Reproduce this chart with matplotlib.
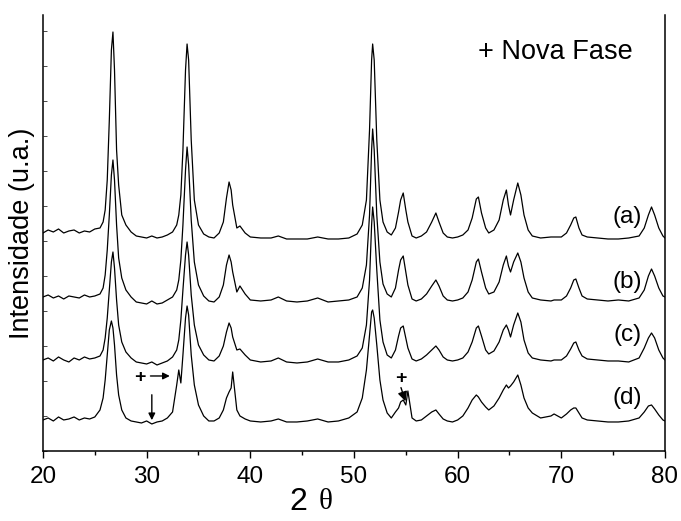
import matplotlib
matplotlib.use('Agg')
import matplotlib.pyplot as plt
import numpy as np

plt.rcParams['font.family'] = ['Liberation Sans', 'DejaVu Sans']

# 2 theta grid (degrees)
two_theta = [
    20.0, 20.5, 21.0, 21.5, 22.0, 22.5, 23.0, 23.5, 24.0, 24.5,
    25.0, 25.5, 25.8, 26.0, 26.2, 26.4, 26.6, 26.75, 26.9, 27.1,
    27.3, 27.6, 28.0, 28.5, 29.0, 29.5, 30.0, 30.5, 31.0, 31.5,
    32.0, 32.5, 32.9, 33.1, 33.3, 33.5, 33.75, 33.9, 34.05, 34.3,
    34.6, 35.0, 35.5, 36.0, 36.5, 37.0, 37.4, 37.7, 37.95, 38.15,
    38.3, 38.7, 39.0, 39.5, 40.0, 41.0, 42.0, 42.7, 43.5, 44.5,
    45.5, 46.5, 47.5, 48.5, 49.5, 50.3, 50.8, 51.2, 51.5, 51.7,
    51.8, 51.95, 52.2, 52.5, 52.8, 53.2, 53.6, 54.0, 54.3, 54.5,
    54.75, 55.0, 55.2, 55.6, 56.0, 56.5, 57.0, 57.5, 57.9, 58.2,
    58.6, 59.0, 59.5, 60.0, 60.5, 61.0, 61.4, 61.8, 62.0, 62.3,
    62.7, 63.0, 63.5, 64.0, 64.4, 64.7, 64.9, 65.1, 65.4, 65.8,
    66.1, 66.4, 66.8, 67.2, 68.0, 69.0, 69.3, 70.0, 70.5, 70.9,
    71.2, 71.4, 71.7, 72.0, 72.5, 73.5, 74.5, 75.5, 76.5, 77.5,
    78.0, 78.4, 78.7, 79.0, 79.4, 79.8, 80.0,
]

# intensities (u.a.), curves already stacked
int_a = [
    218, 221, 219, 222, 218, 220, 221, 218, 220, 219,
    222, 223, 229, 241, 271, 331, 401, 419, 381, 301,
    266, 236, 226, 219, 215, 214, 213, 215, 213, 214,
    216, 219, 226, 236, 256, 301, 381, 407, 391, 311,
    251, 226, 217, 214, 213, 218, 229, 253, 269, 261,
    246, 223, 225, 218, 214, 213, 213, 215, 212, 212,
    212, 214, 212, 212, 213, 217, 226, 251, 321, 391,
    407, 391, 311, 251, 229, 219, 216, 223, 239, 251,
    258, 241, 229, 215, 213, 215, 219, 229, 238, 229,
    218, 214, 213, 214, 216, 221, 233, 252, 254, 238,
    223, 218, 221, 231, 251, 261, 246, 236, 251, 268,
    256, 236, 221, 215, 213, 214, 214, 214, 218, 226,
    233, 234, 223, 216, 214, 213, 212, 212, 213, 215,
    223, 236, 244, 236, 223, 215, 213,
]
int_b = [
    154, 156, 153, 155, 152, 155, 154, 153, 156, 154,
    155, 157, 163, 176, 201, 236, 276, 291, 271, 226,
    193, 173, 161, 154, 149, 148, 147, 150, 147, 148,
    151, 154, 161, 171, 191, 226, 281, 304, 286, 231,
    189, 166, 155, 150, 149, 154, 166, 186, 196, 189,
    179, 159, 165, 157, 151, 150, 151, 154, 150, 149,
    150, 153, 149, 150, 151, 154, 163, 186, 236, 301,
    322, 301, 236, 189, 167, 157, 154, 163, 181, 191,
    195, 179, 166, 152, 150, 152, 157, 165, 171, 165,
    155, 151, 150, 151, 153, 159, 171, 189, 192, 179,
    163, 157, 159, 169, 186, 195, 185, 179, 189, 198,
    189, 173, 159, 153, 151, 150, 151, 151, 155, 163,
    171, 172, 163, 155, 152, 151, 150, 151, 150, 153,
    161, 175, 182, 175, 163, 155, 154,
]
int_c = [
    91, 93, 90, 94, 91, 89, 93, 91, 94, 92,
    93, 95, 101, 113, 133, 161, 189, 199, 183, 151,
    126, 109, 99, 93, 89, 88, 87, 89, 86, 88,
    90, 94, 101, 111, 131, 161, 196, 209, 196, 156,
    126, 106, 96, 91, 90, 95, 105, 119, 128, 123,
    114, 101, 102, 96, 91, 89, 90, 93, 89, 88,
    89, 92, 89, 89, 91, 95, 103, 126, 171, 226,
    244, 229, 181, 131, 109, 96, 93, 101, 115, 123,
    125, 113, 103, 92, 90, 92, 96, 101, 105, 101,
    94, 91, 90, 91, 93, 99, 109, 123, 125, 115,
    101, 97, 100, 109, 121, 126, 121, 114, 126, 138,
    129, 111, 98, 93, 91, 90, 91, 91, 95, 102,
    108, 109, 101, 95, 92, 91, 90, 90, 89, 93,
    103, 113, 118, 113, 101, 93, 91,
]
int_d = [
    31, 33, 30, 34, 31, 32, 34, 31, 33, 32,
    34, 41, 53, 71, 96, 121, 130, 123, 106, 76,
    56, 41, 33, 30, 29, 28, 30, 27, 29, 30,
    33, 39, 66, 81, 68, 96, 133, 145, 136, 96,
    66, 46, 35, 30, 30, 33, 41, 53, 59, 63,
    79, 41, 35, 32, 30, 29, 30, 32, 29, 29,
    30, 32, 29, 30, 33, 39, 53, 81, 116, 139,
    141, 133, 106, 71, 51, 38, 33, 39, 43, 49,
    51, 46, 60, 33, 30, 31, 35, 39, 41, 37,
    32, 30, 29, 31, 35, 43, 51, 56, 54, 49,
    44, 41, 45, 53, 61, 66, 63, 65, 69, 76,
    66, 53, 43, 38, 33, 35, 37, 33, 37, 41,
    43, 43, 38, 33, 31, 30, 29, 29, 30, 33,
    39, 45, 46, 42, 36, 31, 30,
]

curves = [int_a, int_b, int_c, int_d]
curve_labels = ['(a)', '(b)', '(c)', '(d)']
label_pos = [(76.4, 234), (76.4, 169), (76.4, 116), (76.4, 53)]

fig = plt.figure(figsize=(6.81, 5.21), dpi=100)
ax = fig.add_axes([0.0631, 0.1344, 0.9134, 0.8368])

for y in curves:
    ax.plot(two_theta, y, color='black', lw=0.9)

for lab, (x, y) in zip(curve_labels, label_pos):
    ax.text(x, y, lab, fontsize=17.5, ha='center', va='center')

ax.text(69.4, 399, '+ Nova Fase', fontsize=19.5, ha='center', va='center')

# new phase markers on curve (d)
ax.text(29.35, 73, '+', fontsize=14, fontweight='bold', ha='center', va='center')
ax.annotate('', xy=(32.5, 75), xytext=(30.1, 75),
            arrowprops=dict(arrowstyle='-|>', color='black', lw=1.0,
                            mutation_scale=10))
ax.annotate('', xy=(30.5, 28), xytext=(30.5, 59),
            arrowprops=dict(arrowstyle='-|>', color='black', lw=1.0,
                            mutation_scale=10))
ax.text(54.5, 72, '+', fontsize=14, fontweight='bold', ha='center', va='center')
ax.annotate('', xy=(55.05, 47), xytext=(54.45, 66),
            arrowprops=dict(arrowstyle='-|>', color='black', lw=1.0,
                            mutation_scale=14))

ax.set_xlim(20, 80)
ax.set_ylim(0, 436)
ax.set_xticks(np.arange(20, 81, 10))
ax.set_xticks(np.arange(25, 80, 10), minor=True)
ax.set_yticks(np.arange(0, 436, 35))
ax.set_yticklabels([])
ax.tick_params(axis='x', which='major', direction='out', length=5, width=1.0,
               labelsize=17.5, pad=6)
ax.tick_params(axis='x', which='minor', direction='out', length=3, width=1.0)
ax.tick_params(axis='y', direction='in', length=3, width=0.5)

ax.spines['top'].set_visible(False)
for s in ['left', 'right', 'bottom']:
    ax.spines[s].set_linewidth(1.1)

ax.set_ylabel('Intensidade (u.a.)', fontsize=19.5, labelpad=2)

# x label: "2" in sans, theta in serif like the original
fig.text(0.438, 0.036, '2', fontsize=23, ha='center', va='center')
fig.text(0.478, 0.036, 'θ', fontsize=21, ha='center', va='center',
         family=['Liberation Serif', 'DejaVu Serif'])

fig.savefig('out.png', dpi=100)
